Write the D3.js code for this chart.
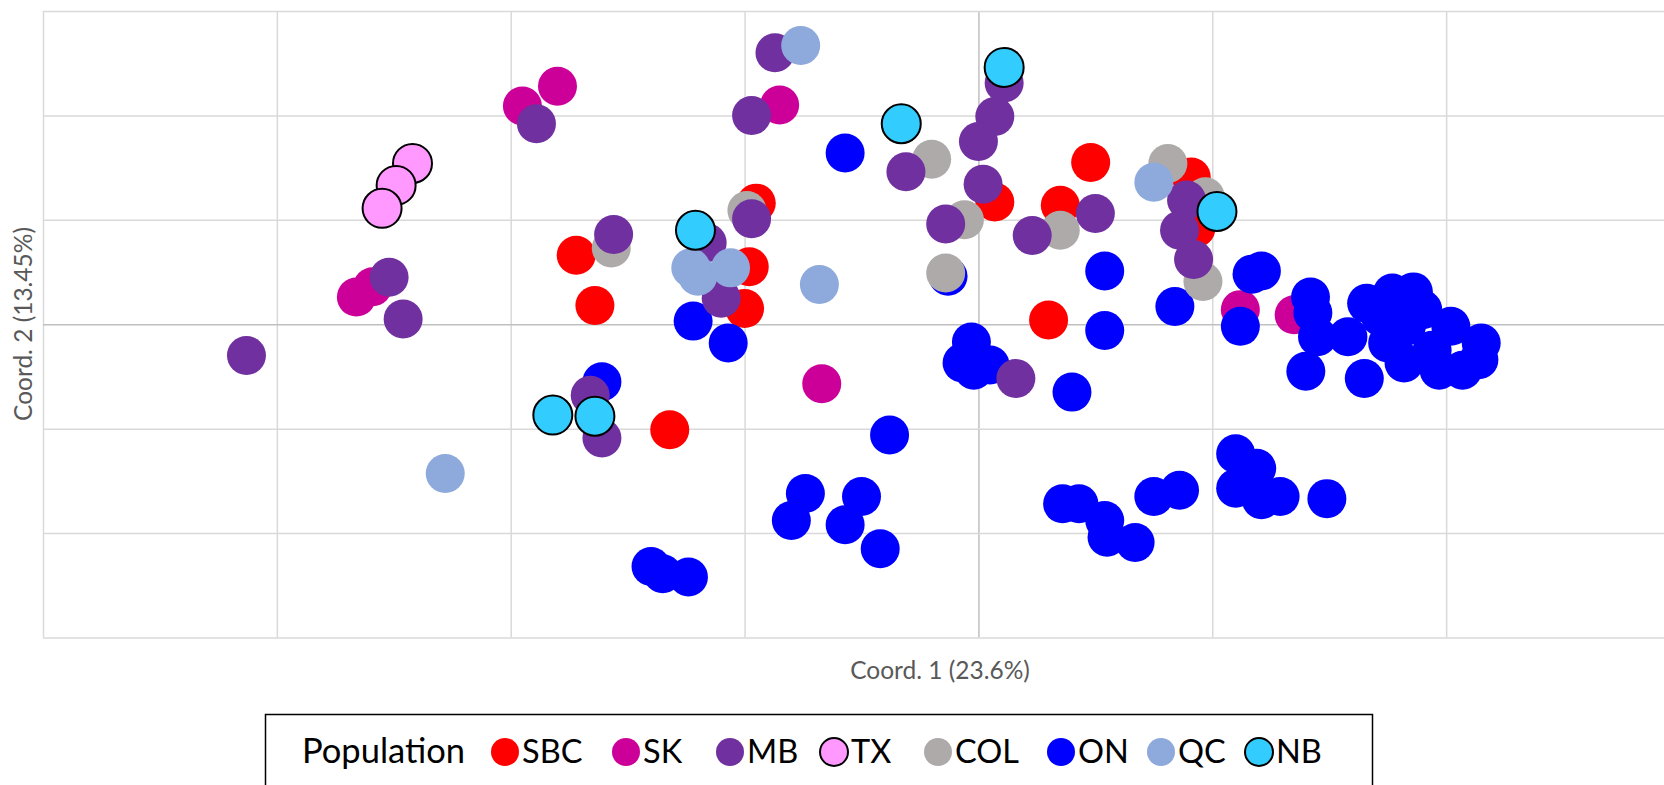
<!DOCTYPE html>
<html>
<head>
<meta charset="utf-8">
<script src="https://cdn.jsdelivr.net/npm/d3@7"></script>
<style>
  html, body { margin: 0; padding: 0; background: #ffffff; }
  svg { display: block; }
</style>
</head>
<body>
<svg id="chart" width="1664" height="785"></svg>
<script>
// PCoA coordinates per population: [Coord. 1, Coord. 2]
const SBC = [[-0.172,0.066],[-0.164,0.018],[-0.132,-0.101],[-0.095,0.116],[-0.098,0.055],[-0.100,0.015],
  [0.048,0.155],[0.007,0.117],[0.035,0.114],[0.030,0.004],[0.091,0.141],[0.093,0.092]];
const SK = [[-0.180,0.228],[-0.195,0.209],[-0.085,0.210],[-0.266,0.026],[-0.259,0.036],[-0.067,-0.057],
  [0.112,0.014],[0.135,0.009]];
const MB = [[-0.189,0.192],[-0.252,0.045],[-0.246,0.005],[-0.313,-0.030],[-0.087,0.260],[-0.097,0.200],
  [-0.156,0.086],[-0.116,0.078],[-0.097,0.101],[-0.110,0.025],[-0.166,-0.068],[-0.161,-0.109],
  [0.011,0.231],[0.007,0.199],[0.000,0.175],[-0.031,0.146],[0.002,0.134],[-0.014,0.096],
  [0.023,0.085],[0.050,0.106],[0.089,0.119],[0.086,0.090],[0.092,0.062],[0.016,-0.052]];
const TX = [[-0.242,0.154],[-0.249,0.133],[-0.255,0.111]];
const COL = [[-0.157,0.073],[-0.099,0.109],[-0.020,0.158],[-0.006,0.100],[-0.014,0.049],[0.035,0.090],
  [0.081,0.154],[0.097,0.122],[0.096,0.041]];
const ON = [[-0.057,0.164],[-0.013,0.046],[-0.122,0.003],[-0.107,-0.018],[-0.161,-0.055],[-0.038,-0.106],
  [-0.074,-0.162],[-0.080,-0.188],[-0.050,-0.165],[-0.057,-0.192],[-0.042,-0.215],[-0.140,-0.232],
  [-0.135,-0.239],[-0.124,-0.242],[-0.003,-0.017],[-0.007,-0.037],[0.005,-0.039],[-0.002,-0.044],
  [0.040,-0.065],[0.054,0.051],[0.054,-0.006],[0.036,-0.172],[0.043,-0.172],[0.054,-0.188],
  [0.055,-0.204],[0.067,-0.209],[0.075,-0.165],[0.086,-0.159],[0.110,-0.124],[0.119,-0.138],
  [0.110,-0.157],[0.121,-0.168],[0.129,-0.165],[0.149,-0.167],[0.117,0.048],[0.121,0.051],
  [0.084,0.017],[0.112,-0.002],[0.142,0.026],[0.143,0.011],[0.145,-0.012],[0.140,-0.045],
  [0.158,-0.012],[0.166,0.020],[0.177,0.030],[0.186,0.031],[0.190,0.014],[0.165,-0.052],
  [0.182,-0.037],[0.197,-0.044],[0.207,-0.044],[0.215,-0.018],[0.214,-0.034],[0.202,-0.002],
  [0.175,-0.018],[0.183,-0.002],[0.172,0.007],[0.194,-0.025]];
const QC = [[-0.076,0.267],[-0.123,0.054],[-0.120,0.046],[-0.106,0.054],[-0.068,0.038],[-0.228,-0.143],
  [0.075,0.136]];
const NB = [[0.011,0.246],[-0.033,0.192],[-0.121,0.090],[0.102,0.108],[-0.182,-0.087],[-0.164,-0.088]];

// Legend order and colours
const populations = ["SBC", "SK", "MB", "TX", "COL", "ON", "QC", "NB"];
const colors = ["#FF0000", "#CC0099", "#7030A0", "#FF99FF", "#AEAAAA", "#0000FF", "#8EA9DB", "#33CCFF"];
const outlined = ["TX", "NB"];
// Stacking order of the markers (later ones on top)
const drawOrder = ["SBC", "SK", "ON", "COL", "MB", "QC", "TX", "NB"];
const seriesData = { SBC, SK, MB, TX, COL, ON, QC, NB };

const xTicks = [-0.4, -0.3, -0.2, -0.1, 0, 0.1, 0.2, 0.3];
const yTicks = [-0.3, -0.2, -0.1, 0, 0.1, 0.2, 0.3];

const svg = d3.select("#chart");
const font = "Lato, 'Open Sans', sans-serif";

const x = d3.scaleLinear().domain([-0.4, 0.3]).range([43, 1680]);
const y = d3.scaleLinear().domain([-0.3, 0.3]).range([637.5, 11]);
const color = d3.scaleOrdinal().domain(populations).range(colors);

// Gridlines (zero lines slightly darker)
const grid = svg.append("g");
grid.append("g")
  .attr("transform", `translate(0,${y(-0.3)})`)
  .call(d3.axisBottom(x).tickValues(xTicks).tickSize(-(y(-0.3) - y(0.3))).tickFormat(""))
  .call(g => g.select(".domain").remove())
  .call(g => g.selectAll("line").attr("stroke", d => d === 0 ? "#bfbfbf" : "#d9d9d9").attr("stroke-width", 1.5));
grid.append("g")
  .attr("transform", `translate(${x(-0.4)},0)`)
  .call(d3.axisLeft(y).tickValues(yTicks).tickSize(-(x(0.3) - x(-0.4))).tickFormat(""))
  .call(g => g.select(".domain").remove())
  .call(g => g.selectAll("line").attr("stroke", d => d === 0 ? "#bfbfbf" : "#d9d9d9").attr("stroke-width", 1.5));

// Markers
const marks = svg.append("g");
drawOrder.forEach(name => {
  marks.append("g").selectAll("circle")
    .data(seriesData[name])
    .join("circle")
    .attr("cx", d => x(d[0]))
    .attr("cy", d => y(d[1]))
    .attr("r", 19.5)
    .attr("fill", color(name))
    .attr("stroke", outlined.includes(name) ? "#000" : "none")
    .attr("stroke-width", outlined.includes(name) ? 2 : 0);
});

// Axis titles
svg.append("text")
  .attr("x", 940).attr("y", 679)
  .attr("text-anchor", "middle")
  .attr("font-family", font).attr("font-size", 24.5)
  .attr("fill", "#595959")
  .text("Coord. 1 (23.6%)");
svg.append("text")
  .attr("transform", "translate(32,324) rotate(-90)")
  .attr("text-anchor", "middle")
  .attr("font-family", font).attr("font-size", 24.5)
  .attr("fill", "#595959")
  .text("Coord. 2 (13.45%)");

// Legend
const legend = svg.append("g");
legend.append("rect")
  .attr("x", 265.5).attr("y", 714.5)
  .attr("width", 1107).attr("height", 90)
  .attr("fill", "#fff").attr("stroke", "#000").attr("stroke-width", 1.5);
legend.append("text")
  .attr("x", 302).attr("y", 763)
  .attr("font-family", font).attr("font-size", 34.5)
  .attr("fill", "#000")
  .text("Population");
const legendX = [505, 626, 730, 834, 938, 1061, 1161, 1259];
populations.forEach((name, i) => {
  legend.append("circle")
    .attr("cx", legendX[i]).attr("cy", 752)
    .attr("r", 14)
    .attr("fill", color(name))
    .attr("stroke", outlined.includes(name) ? "#000" : "none")
    .attr("stroke-width", 2);
  legend.append("text")
    .attr("x", legendX[i] + 17).attr("y", 763)
    .attr("font-family", font).attr("font-size", 32.5)
    .attr("fill", "#000")
    .text(name);
});
</script>
</body>
</html>
